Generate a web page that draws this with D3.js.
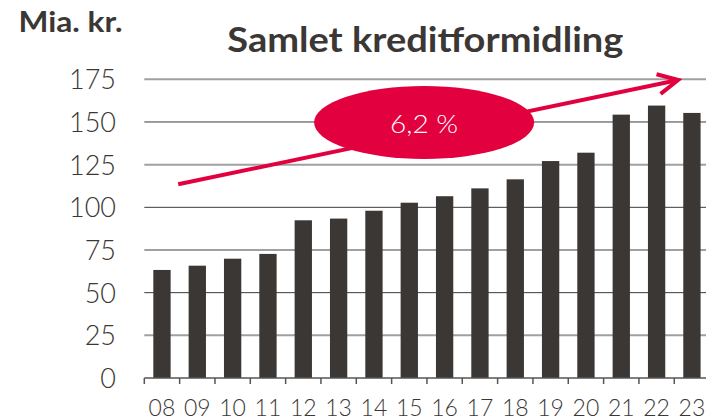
<!DOCTYPE html>
<html>
<head>
<meta charset="utf-8">
<script src="https://cdn.jsdelivr.net/npm/d3@7"></script>
<style>
  body { margin: 0; background: #fff; }
  text { font-family: Lato, "Liberation Sans", sans-serif; fill: #3b3734; }
</style>
</head>
<body>
<svg id="chart" width="706" height="420"></svg>
<script>
const years = ["08", "09", "10", "11", "12", "13", "14", "15", "16", "17", "18", "19", "20", "21", "22", "23"];
const values = [63.3, 65.8, 69.9, 72.7, 92.4, 93.4, 98.0, 102.7, 106.5, 111.1, 116.4, 127.1, 132.0, 154.3, 159.6, 155.3];
const yTicks = [0, 25, 50, 75, 100, 125, 150, 175];
const growthLabel = "6,2 %";
// trend arrow, in bar-slot units (x) and Mia. kr. (y)
const trendFrom = [0.96, 113.5];
const trendTo = [15.11, 174.6];
const bubbleAt = [7.92, 149.7];

const svg = d3.select("#chart");
const red = "#e2003f";
const barColor = "#3b3734";

const x0 = 144.3, x1 = 709.6;
const y = d3.scaleLinear().domain([0, 175]).range([378, 79.3]);
const x = d3.scaleBand().domain(years).range([x0, x1])
  .paddingInner(0.51).paddingOuter(0.255);
const slot = d3.scaleLinear().domain([0, years.length]).range([x0, x1]);

// titles
svg.append("text")
  .attr("x", 18.5).attr("y", 32.3)
  .attr("font-size", 28).attr("font-weight", "bold")
  .attr("textLength", 104).attr("lengthAdjust", "spacingAndGlyphs")
  .text("Mia. kr.");

svg.append("text")
  .attr("x", 227.3).attr("y", 51.7)
  .attr("font-size", 34).attr("font-weight", "bold")
  .attr("textLength", 396).attr("lengthAdjust", "spacingAndGlyphs")
  .text("Samlet kreditformidling");

// gridlines
svg.append("g")
  .selectAll("line")
  .data(yTicks.filter(d => d > 0))
  .join("line")
  .attr("x1", x0).attr("x2", 706)
  .attr("y1", d => y(d)).attr("y2", d => y(d))
  .attr("stroke", d => d % 50 === 0 ? "#3a3a3a" : "#a0a0a0")
  .attr("stroke-width", d => d % 50 === 0 ? 1 : 2);

// y labels
svg.append("g")
  .selectAll("text")
  .data(yTicks)
  .join("text")
  .attr("x", 116)
  .attr("y", d => y(d) + 10)
  .attr("text-anchor", "end")
  .attr("font-size", 27)
  .attr("font-weight", 300)
  .text(d => d);

// bars
svg.append("g")
  .selectAll("rect")
  .data(values)
  .join("rect")
  .attr("x", (d, i) => x(years[i]))
  .attr("y", d => y(d))
  .attr("width", x.bandwidth())
  .attr("height", d => y(0) - y(d))
  .attr("fill", barColor);

// x axis with ticks between bars
const gap = (x.step() - x.bandwidth()) / 2;
const axis = svg.append("g");
axis.append("line")
  .attr("x1", x0).attr("x2", 706)
  .attr("y1", y(0)).attr("y2", y(0))
  .attr("stroke", "#555").attr("stroke-width", 1.5);
axis.selectAll(".tick")
  .data(years)
  .join("line")
  .attr("class", "tick")
  .attr("x1", d => x(d) - gap).attr("x2", d => x(d) - gap)
  .attr("y1", y(0)).attr("y2", y(0) + 6)
  .attr("stroke", "#555").attr("stroke-width", 1.5);
axis.selectAll(".lbl")
  .data(years)
  .join("text")
  .attr("class", "lbl")
  .attr("x", d => x(d) + x.bandwidth() / 2)
  .attr("y", 416)
  .attr("text-anchor", "middle")
  .attr("font-size", 23)
  .attr("font-weight", 300)
  .text(d => d);

// trend arrow
svg.append("defs").append("marker")
  .attr("id", "head")
  .attr("markerUnits", "userSpaceOnUse")
  .attr("viewBox", "-24 -14 28 28")
  .attr("markerWidth", 28).attr("markerHeight", 28)
  .attr("refX", 0).attr("refY", 0)
  .attr("orient", "auto")
  .append("path")
  .attr("d", "M-20,-10L0,0L-20,10")
  .attr("fill", "none")
  .attr("stroke", red)
  .attr("stroke-width", 4);

svg.append("line")
  .attr("x1", slot(trendFrom[0])).attr("y1", y(trendFrom[1]))
  .attr("x2", slot(trendTo[0])).attr("y2", y(trendTo[1]))
  .attr("stroke", red).attr("stroke-width", 4)
  .attr("marker-end", "url(#head)");

svg.append("ellipse")
  .attr("cx", slot(bubbleAt[0])).attr("cy", y(bubbleAt[1]))
  .attr("rx", 110).attr("ry", 36.5)
  .attr("fill", red);

svg.append("text")
  .attr("x", slot(bubbleAt[0]))
  .attr("y", y(bubbleAt[1]) + 11)
  .attr("text-anchor", "middle")
  .attr("font-size", 26)
  .attr("font-weight", 300)
  .attr("textLength", 68).attr("lengthAdjust", "spacingAndGlyphs")
  .style("fill", "#fff")
  .text(growthLabel);
</script>
</body>
</html>
